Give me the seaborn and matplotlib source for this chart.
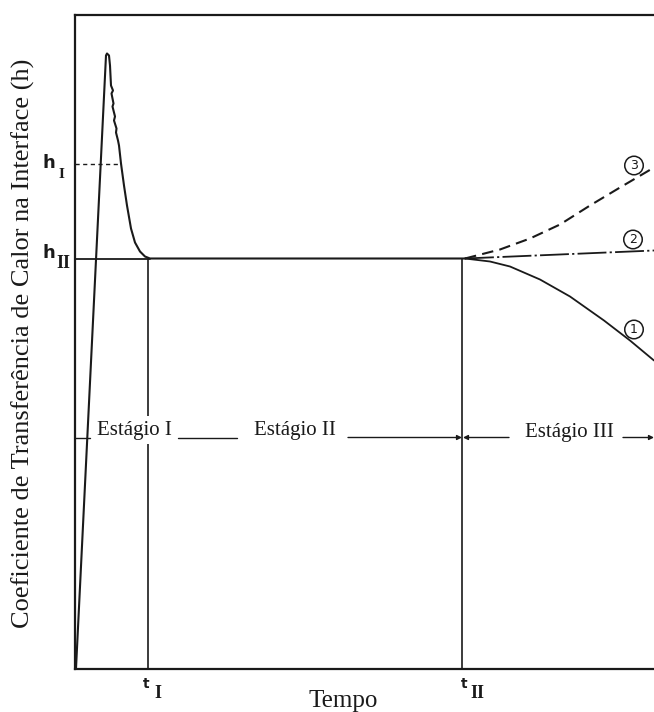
import matplotlib
matplotlib.use("Agg")
import matplotlib.pyplot as plt
import seaborn as sns
import pandas as pd

# ---- data (schematic units: time on x, heat-transfer coefficient h on y) ----
main_t = [1, 31, 32, 34, 35, 36, 38, 36.5, 38.5, 37.5, 40, 39, 41.5, 41, 43, 44,
          46, 49, 52, 56, 60, 65, 70, 75, 390]
main_h = [0, 613, 615, 613, 603, 583, 578, 575, 565, 562, 552, 548, 540, 536, 528, 523,
          505, 483, 463, 440, 426, 417, 412, 410, 410]
curve1_t = [390, 415, 435, 465, 495, 529, 555, 579]
curve1_h = [410, 407, 402, 389, 372, 348, 328, 308]
curve2_t = [390, 579]
curve2_h = [410, 418]
curve3_t = [390, 425, 455, 485, 515, 545, 579]
curve3_h = [410, 419, 430, 444, 463, 481, 501]
h_I = 505
h_II = 410
t_I = 73
t_II = 387
stage_y = 231
curve_labels = ["1", "2", "3"]

sns.set_theme(style="white")
plt.rcParams["font.family"] = ["Liberation Serif", "DejaVu Serif"]

W, H = 654, 712
fig = plt.figure(figsize=(W / 100, H / 100), dpi=100)
ax = fig.add_axes([75 / W, (H - 668.5) / H, 579 / W, 654 / H])
ax.set_xlim(0, 579)
ax.set_ylim(0, 654)
ax.set_xticks([])
ax.set_yticks([])
for s in ["left", "bottom", "top"]:
    ax.spines[s].set_linewidth(1.6)
    ax.spines[s].set_color("#1a1a1a")
ax.spines["right"].set_visible(False)

k = "#1a1a1a"
lw = 1.3

df_main = pd.DataFrame({"t": main_t, "h": main_h})
sns.lineplot(data=df_main, x="t", y="h", sort=False, estimator=None, ax=ax,
             color=k, lw=1.5, solid_joinstyle="round")
sns.lineplot(x=curve1_t, y=curve1_h, sort=False, estimator=None, ax=ax,
             color=k, lw=lw)
sns.lineplot(x=curve2_t, y=curve2_h, sort=False, estimator=None, ax=ax,
             color=k, lw=lw, linestyle=(0, (16, 1.8, 1.2, 1.8)))
sns.lineplot(x=curve3_t, y=curve3_h, sort=False, estimator=None, ax=ax,
             color=k, lw=1.5, linestyle=(0, (5.5, 3)))

# reference lines
ax.plot([0, 46], [h_I, h_I], color=k, lw=1.0, linestyle=(0, (3, 2.5)), zorder=1)
ax.plot([0, 75], [h_II, h_II], color=k, lw=lw, zorder=1)
ax.plot([t_I, t_I], [0, h_II], color=k, lw=1.2, zorder=1)
ax.plot([t_II, t_II], [0, h_II], color=k, lw=1.2, zorder=1)

# stage markers
ax.plot([0, 15], [stage_y, stage_y], color=k, lw=1.0)
ax.plot([103, 162], [stage_y, stage_y], color=k, lw=1.0)
ap = dict(arrowstyle="-|>", lw=1.0, color=k, mutation_scale=7, shrinkA=0, shrinkB=0)
ax.annotate("", xy=(t_II, stage_y), xytext=(273, stage_y), arrowprops=ap)
ax.annotate("", xy=(t_II + 1, stage_y), xytext=(434, stage_y), arrowprops=ap)
ax.annotate("", xy=(579, stage_y), xytext=(548, stage_y), arrowprops=ap,
            annotation_clip=False)

ax.text(59.5, 234, "Estágio I", ha="center", va="baseline", fontsize=15,
        color=k, zorder=5,
        bbox=dict(boxstyle="square,pad=0.2", fc="white", ec="none"))
ax.text(220, 233, "Estágio II", ha="center", va="baseline", fontsize=15, color=k)
ax.text(494, 232, "Estágio III", ha="center", va="baseline", fontsize=15, color=k)

# circled curve labels
for lab, (cx, cy) in zip(curve_labels, [(559, 339), (558, 429), (559, 503)]):
    ax.text(cx, cy, lab, ha="center", va="center", fontsize=9, color=k,
            family="DejaVu Sans", zorder=6,
            bbox=dict(boxstyle="circle,pad=0.22", fc="white", ec=k, lw=1.1))

# h and t labels
sans = dict(family="DejaVu Sans", fontweight="bold", color=k)
serif = dict(family="Liberation Serif", fontweight="bold", color=k)
ax.text(-26.5, 501, "h", ha="center", va="baseline", fontsize=13, **sans)
ax.text(-13.5, 491, "I", ha="center", va="baseline", fontsize=11, **serif)
ax.text(-26.5, 410, "h", ha="center", va="baseline", fontsize=13, **sans)
ax.text(-11.5, 400, "II", ha="center", va="baseline", fontsize=13, **serif)
ax.text(71.5, -19, "t", ha="center", va="baseline", fontsize=10, **sans)
ax.text(82.5, -30, "I", ha="center", va="baseline", fontsize=13, **serif)
ax.text(389.5, -19, "t", ha="center", va="baseline", fontsize=10, **sans)
ax.text(402.5, -30, "II", ha="center", va="baseline", fontsize=13, **serif)

fig.text(343 / W, 1 - 707 / H, "Tempo", ha="center", va="baseline",
         fontsize=18, color=k)
fig.text(23 / W, 1 - 343 / H,
         "Coeficiente de Transferência de Calor na Interface (h)",
         rotation=90, ha="center", va="center", fontsize=19, color=k)

fig.savefig("out.png", dpi=100)
